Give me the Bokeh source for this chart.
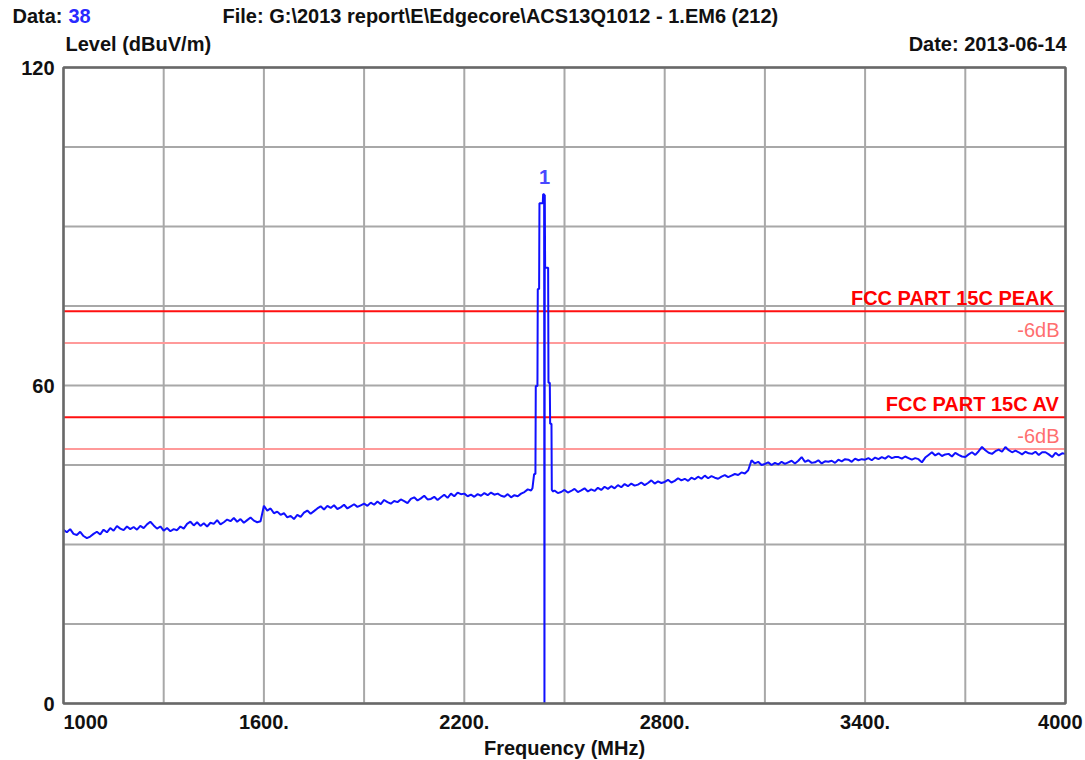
from bokeh.plotting import figure
from bokeh.models import Range1d, Label
from bokeh.embed import file_html
from bokeh.resources import INLINE

# ---------------- texts ----------------
header_data_label = "Data:"
header_data_value = "38"
header_file = "File: G:\\2013 report\\E\\Edgecore\\ACS13Q1012 - 1.EM6  (212)"
y_title = "Level (dBuV/m)"
date_text = "Date: 2013-06-14"
x_title = "Frequency (MHz)"

# ---------------- axes ----------------
x_grid_ticks = [1000, 1300, 1600, 1900, 2200, 2500, 2800, 3100, 3400, 3700, 4000]
y_grid_ticks = [0, 15, 30, 45, 60, 75, 90, 105, 120]
x_tick_values = [1000, 1600, 2200, 2800, 3400, 4000]
x_tick_labels = ["1000", "1600.", "2200.", "2800.", "3400.", "4000"]
y_tick_values = [0, 60, 120]
y_tick_labels = ["0", "60", "120"]

# ---------------- limits ----------------
limit_names = ["FCC PART 15C  PEAK", "FCC PART 15C AV"]
limit_levels = [74, 54]
margin_name = "-6dB"
margin_db = 6

# ---------------- marker ----------------
marker_ids = ["1"]
marker_freqs = [2440]
marker_levels = [96.1]

# ---------------- spectrum (MHz, dBuV/m) ----------------
freq_low = list(range(1000, 2400, 10))
level_low = [
    32.8, 32.3, 32.9, 32.0, 31.8, 32.4, 31.6, 31.2, 31.5, 32.0,
    32.4, 31.9, 32.8, 32.3, 33.1, 32.6, 33.5, 33.0, 32.7, 33.4,
    32.9, 33.3, 32.8, 33.5, 33.1, 33.8, 34.3, 33.6, 33.0, 33.4,
    32.6, 33.1, 32.5, 32.9, 32.7, 33.4, 33.0, 33.9, 34.3, 33.6,
    34.2, 33.5, 34.0, 33.4, 34.1, 33.9, 34.6, 33.8, 34.2, 34.7,
    34.4, 35.0, 34.3, 34.8, 34.1, 34.6, 35.1, 34.5, 34.2, 34.4,
    37.3, 36.4, 36.8, 35.9, 36.2, 35.6, 35.9, 35.1, 35.4, 34.8,
    35.6, 35.2, 36.0, 36.4, 35.8, 36.3, 36.8, 37.2, 36.6, 37.3,
    36.9, 37.4, 36.7, 37.0, 37.5, 36.8, 37.2, 37.6, 37.1, 37.4,
    37.7, 37.3, 37.9, 37.5, 38.1, 37.6, 38.4, 38.0, 37.7, 38.2,
    38.0, 38.5, 38.2, 37.8, 38.6, 38.9, 38.3, 38.7, 39.2, 38.5,
    38.6, 39.0, 38.4, 38.9, 39.4, 38.8, 39.6, 39.1, 39.8, 39.5,
    39.6, 39.1, 39.4, 39.0, 39.5, 39.2, 39.7, 39.3, 39.8, 39.4,
    39.6, 39.2, 39.0, 39.5, 38.9, 39.3, 39.1, 39.6, 39.9, 40.4,
]
freq_peak = [2400, 2404, 2409, 2413, 2414, 2419, 2420, 2424, 2425, 2435, 2436,
             2439, 2440, 2441, 2442, 2451, 2452, 2456, 2457, 2461, 2462, 2466]
level_peak = [40.2, 40.6, 43.3, 43.3, 59.9, 59.9, 78.2, 78.2, 94.4, 94.4, 96.1,
              96.1, 0.0, 96.0, 82.2, 82.2, 60.5, 60.5, 52.8, 52.8, 40.3, 40.0]
freq_high = list(range(2470, 4001, 10))
level_high = [
    40.2, 39.7, 39.9,
    40.3, 39.8, 40.1, 40.5, 39.9, 40.2, 40.6, 40.0, 40.4, 40.1,
    40.7, 40.3, 40.9, 40.5, 41.0, 40.6, 41.2, 40.8, 41.4, 41.0,
    41.5, 41.1, 41.3, 41.7, 41.2, 41.6, 42.1, 41.5, 41.9, 41.6,
    41.8, 42.2, 41.7, 42.0, 42.5, 42.1, 42.4, 42.0, 42.6, 42.3,
    42.8, 42.4, 43.0, 42.5, 42.9, 42.6, 42.4, 42.8, 43.1, 42.7,
    43.0, 43.3, 43.1, 43.6, 43.4, 44.0, 45.9, 45.3, 45.6, 45.0,
    45.2, 45.5, 45.0, 45.4, 45.1, 45.6, 45.2, 45.5, 45.8, 45.3,
    45.8, 46.5, 45.6, 45.9, 45.4, 45.5, 45.9, 45.3, 45.7, 45.6,
    45.8, 45.4, 46.0, 45.7, 46.1, 46.0, 45.6, 46.2, 45.9, 46.1,
    46.0, 46.3, 45.9, 46.4, 46.1, 46.5, 46.2, 46.7, 46.3, 46.5,
    46.5, 46.2, 46.6, 46.3, 46.0, 46.3, 46.1, 45.5, 46.4, 46.9,
    47.4, 46.8, 47.2, 46.7, 47.0, 47.1, 46.6, 47.3, 46.9, 46.6,
    46.5, 47.0, 47.4, 46.9, 47.6, 48.4, 47.8, 47.3, 47.1, 47.6,
    47.9, 47.5, 48.4, 47.8, 47.4, 47.7, 47.4, 47.0, 47.5, 47.2,
    47.1, 47.5, 46.9, 47.4, 47.4, 47.0, 46.5, 47.3, 46.8, 47.2,
    47.1,
]

freq = freq_low + freq_peak + freq_high
level = level_low + level_peak + level_high

# ---------------- layout (canvas pixels) ----------------
W, H = 1085, 760
X0, X1, Y0, Y1 = 1000, 4000, 0, 120
FL, FR, FT, FB = 63, 1065, 67, 703  # plot-area edges on the canvas


def sx(px):
    return X0 + (px - FL) * (X1 - X0) / (FR - FL)


def sy(py):
    return Y0 + (FB - py) * (Y1 - Y0) / (FB - FT)


FONT = "Liberation Sans"
FS = "20px"
INK = "#111111"

# the frame spans the whole canvas; the data ranges are widened so that the
# chart area lands on the reference's pixels and all texts sit inside the frame
p = figure(width=W, height=H, x_range=Range1d(sx(0), sx(W)), y_range=Range1d(sy(H), sy(0)),
           output_backend="svg", toolbar_location=None,
           x_axis_location=None, y_axis_location=None, min_border=0)
p.background_fill_color = "white"
p.border_fill_color = "white"
p.outline_line_color = None
p.xgrid.visible = False
p.ygrid.visible = False

# grid
p.segment(x0=x_grid_ticks, y0=[Y0] * len(x_grid_ticks), x1=x_grid_ticks, y1=[Y1] * len(x_grid_ticks),
          line_color="#a8a8a8", line_width=2)
p.segment(x0=[X0] * len(y_grid_ticks), y0=y_grid_ticks, x1=[X1] * len(y_grid_ticks), y1=y_grid_ticks,
          line_color="#a8a8a8", line_width=2)

# limit lines
m_levels = [lv - margin_db for lv in limit_levels]
p.segment(x0=[X0] * len(m_levels), y0=m_levels, x1=[X1] * len(m_levels), y1=m_levels,
          line_color="#ff9a9a", line_width=2)
p.segment(x0=[X0] * len(limit_levels), y0=limit_levels, x1=[X1] * len(limit_levels), y1=limit_levels,
          line_color="#ff1010", line_width=2)

# spectrum trace
p.line(freq, level, line_color="#1010ff", line_width=2)

# plot border
p.quad(left=[X0], right=[X1], bottom=[Y0], top=[Y1], fill_color=None,
       line_color="#686868", line_width=2.5)


def lab(x, y, text, align="left", color=INK, style="bold"):
    p.add_layout(Label(x=x, y=y, text=text, text_align=align, text_baseline="middle",
                       text_font=FONT, text_font_style=style, text_font_size=FS, text_color=color))


for name, lv in zip(limit_names, limit_levels):
    lab(sx(1059), lv + 2.5, name, align="right", color="#ff0000")
    lab(sx(1059), lv - margin_db + 2.5, margin_name, align="right", color="#ff6f6f", style="normal")

for mid, mf, ml in zip(marker_ids, marker_freqs, marker_levels):
    lab(mf, ml + 3.3, mid, align="center", color="#4848ff")

# x tick labels
for i, (v, t) in enumerate(zip(x_tick_values, x_tick_labels)):
    if i == 0:
        lab(v, sy(721), t, align="left")
    elif i == len(x_tick_values) - 1:
        lab(sx(1082), sy(721), t, align="right")
    else:
        lab(v, sy(721), t, align="center")

# y tick labels
for v, t in zip(y_tick_values, y_tick_labels):
    lab(sx(54), v, t, align="right")

lab(sx(12), sy(15), header_data_label)
lab(sx(68), sy(15), header_data_value, color="#2a2aff")
lab(sx(222), sy(15), header_file)
lab(sx(65), sy(43), y_title)
lab(sx(1066), sy(43), date_text, align="right")
lab(sx(564), sy(747), x_title, align="center")

open("out.html", "w").write(file_html(p, INLINE))
